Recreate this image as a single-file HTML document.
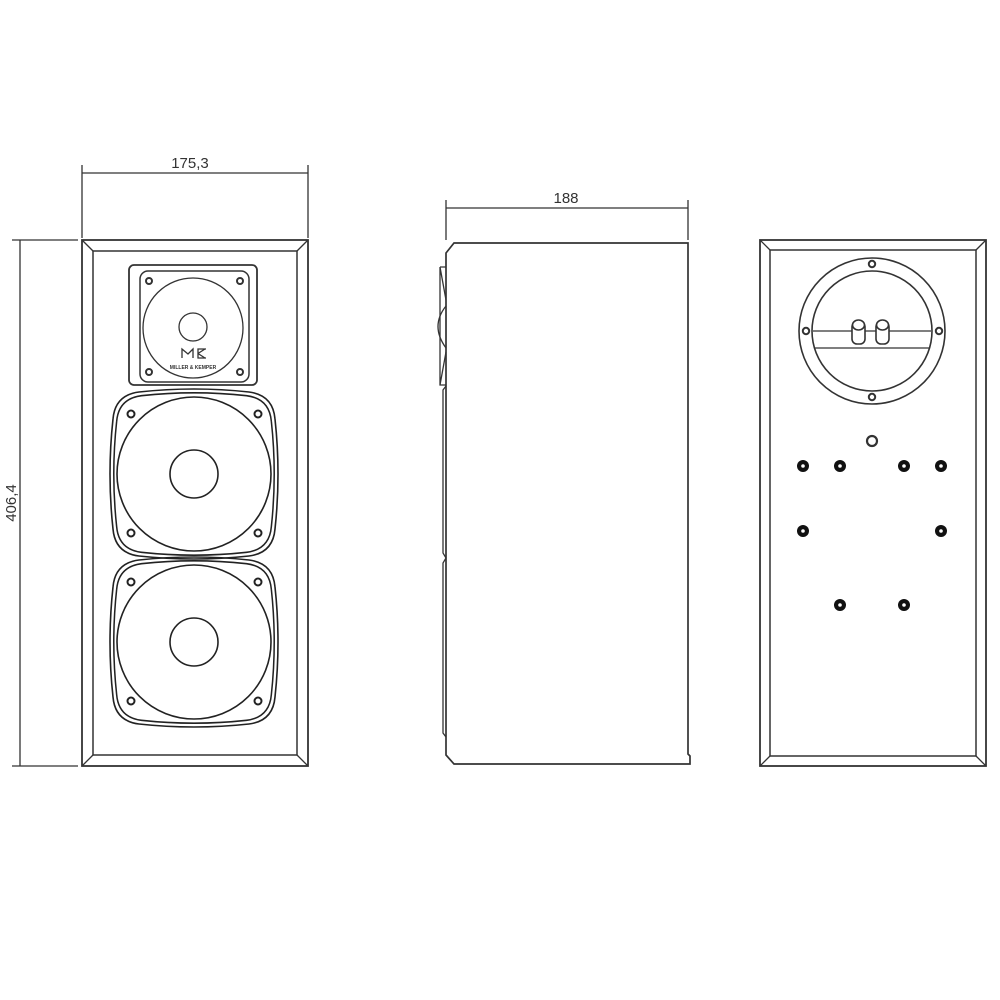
<!DOCTYPE html>
<html><head><style>html,body{margin:0;padding:0;background:#fff}svg{display:block}</style></head>
<body>
<svg width="1000" height="1000" viewBox="0 0 1000 1000" xmlns="http://www.w3.org/2000/svg" font-family="Liberation Sans, sans-serif">
<defs>
<g id="woof" fill="none" stroke="#222" stroke-width="1.6">
<path d="M-55,-82 Q0,-88 55,-82 Q79,-79 81,-55 Q87,0 81,55 Q79,79 55,82 Q0,88 -55,82 Q-79,79 -81,55 Q-87,0 -81,-55 Q-79,-79 -55,-82Z"/>
<path transform="scale(0.955)" d="M-55,-82 Q0,-88 55,-82 Q79,-79 81,-55 Q87,0 81,55 Q79,79 55,82 Q0,88 -55,82 Q-79,79 -81,55 Q-87,0 -81,-55 Q-79,-79 -55,-82Z"/>
<circle r="77"/>
<circle r="24"/>
<circle cx="-63" cy="-60" r="3.5" stroke-width="2"/>
<circle cx="64" cy="-60" r="3.5" stroke-width="2"/>
<circle cx="-63" cy="59" r="3.5" stroke-width="2"/>
<circle cx="64" cy="59" r="3.5" stroke-width="2"/>
</g>
<g id="bolt"><circle r="6" fill="#111"/><circle r="1.8" fill="#fff"/></g>
</defs>
<g stroke="#333" stroke-width="1.3" fill="none">
<line x1="82" y1="165" x2="82" y2="238"/><line x1="308" y1="165" x2="308" y2="238"/>
<line x1="82" y1="173" x2="308" y2="173"/>
<line x1="12" y1="240" x2="78" y2="240"/><line x1="12" y1="766" x2="78" y2="766"/>
<line x1="20" y1="240" x2="20" y2="766"/>
<rect x="82" y="240" width="226" height="526" stroke-width="1.8"/>
<rect x="93" y="251" width="204" height="504" stroke-width="1.5"/>
<line x1="82" y1="240" x2="93" y2="251"/><line x1="308" y1="240" x2="297" y2="251"/>
<line x1="82" y1="766" x2="93" y2="755"/><line x1="308" y1="766" x2="297" y2="755"/>
<rect x="129" y="265" width="128" height="120" rx="5" stroke-width="1.8"/>
<rect x="140" y="271" width="109" height="111" rx="8" stroke-width="1.5"/>
<circle cx="193" cy="328" r="50"/>
<circle cx="193" cy="327" r="14"/>
<g stroke-width="2"><circle cx="149" cy="281" r="3"/><circle cx="240" cy="281" r="3"/><circle cx="149" cy="372" r="3"/><circle cx="240" cy="372" r="3"/></g>
<path d="M182,358 V349 L188,354 L193,349 V358 M206,349 H198 V358 H206 M198,353.5 L205,349 M198,353.5 L205,358" stroke-width="1.3"/>
</g>
<text x="193" y="369" font-size="5" text-anchor="middle" fill="#333" font-weight="bold">MILLER &amp; KEMPER</text>
<use href="#woof" x="194" y="474"/>
<use href="#woof" x="194" y="642"/>
<text x="190" y="168" font-size="15" text-anchor="middle" fill="#333">175,3</text>
<text x="20" y="503" font-size="15" text-anchor="middle" fill="#333" transform="rotate(-90 20 503)" dy="-4">406,4</text>
<g stroke="#333" stroke-width="1.3" fill="none">
<line x1="446" y1="200" x2="446" y2="240"/><line x1="688" y1="200" x2="688" y2="240"/>
<line x1="446" y1="208" x2="688" y2="208"/>
<path d="M446,253 L454,243 H688 V754 L690,756 V764 H454 L446,755 Z" stroke-width="1.7"/>
<path d="M440,267 H446 M440,267 V385 H446 M440,267 L446,300 M440,385 L446,352"/>
<path d="M446,306 Q430,326 446,348"/>
<path d="M446,386 L443,390 V553 L446,558 L443,563 V733 L446,737"/>
</g>
<text x="566" y="203" font-size="15" text-anchor="middle" fill="#333">188</text>
<g stroke="#333" stroke-width="1.3" fill="none">
<rect x="760" y="240" width="226" height="526" stroke-width="1.8"/>
<rect x="770" y="250" width="206" height="506" stroke-width="1.5"/>
<line x1="760" y1="240" x2="770" y2="250"/><line x1="986" y1="240" x2="976" y2="250"/>
<line x1="760" y1="766" x2="770" y2="756"/><line x1="986" y1="766" x2="976" y2="756"/>
<circle cx="872" cy="331" r="73" stroke-width="1.6"/>
<circle cx="872" cy="331" r="60" stroke-width="1.6"/>
<line x1="813" y1="331" x2="931" y2="331"/>
<line x1="815" y1="348" x2="929" y2="348"/>
<g stroke-width="2"><circle cx="872" cy="264" r="3.2"/><circle cx="872" cy="397" r="3.2"/><circle cx="806" cy="331" r="3.2"/><circle cx="939" cy="331" r="3.2"/></g>
<g fill="#fff" stroke-width="1.6">
<rect x="852" y="322" width="13" height="22" rx="5"/><ellipse cx="858.5" cy="325" rx="6" ry="5"/>
<rect x="876" y="322" width="13" height="22" rx="5"/><ellipse cx="882.5" cy="325" rx="6" ry="5"/>
</g>
<circle cx="872" cy="441" r="5" stroke-width="2.2"/>
</g>
<use href="#bolt" x="803" y="466"/><use href="#bolt" x="840" y="466"/><use href="#bolt" x="904" y="466"/><use href="#bolt" x="941" y="466"/>
<use href="#bolt" x="803" y="531"/><use href="#bolt" x="941" y="531"/>
<use href="#bolt" x="840" y="605"/><use href="#bolt" x="904" y="605"/>
</svg>
</body></html>
